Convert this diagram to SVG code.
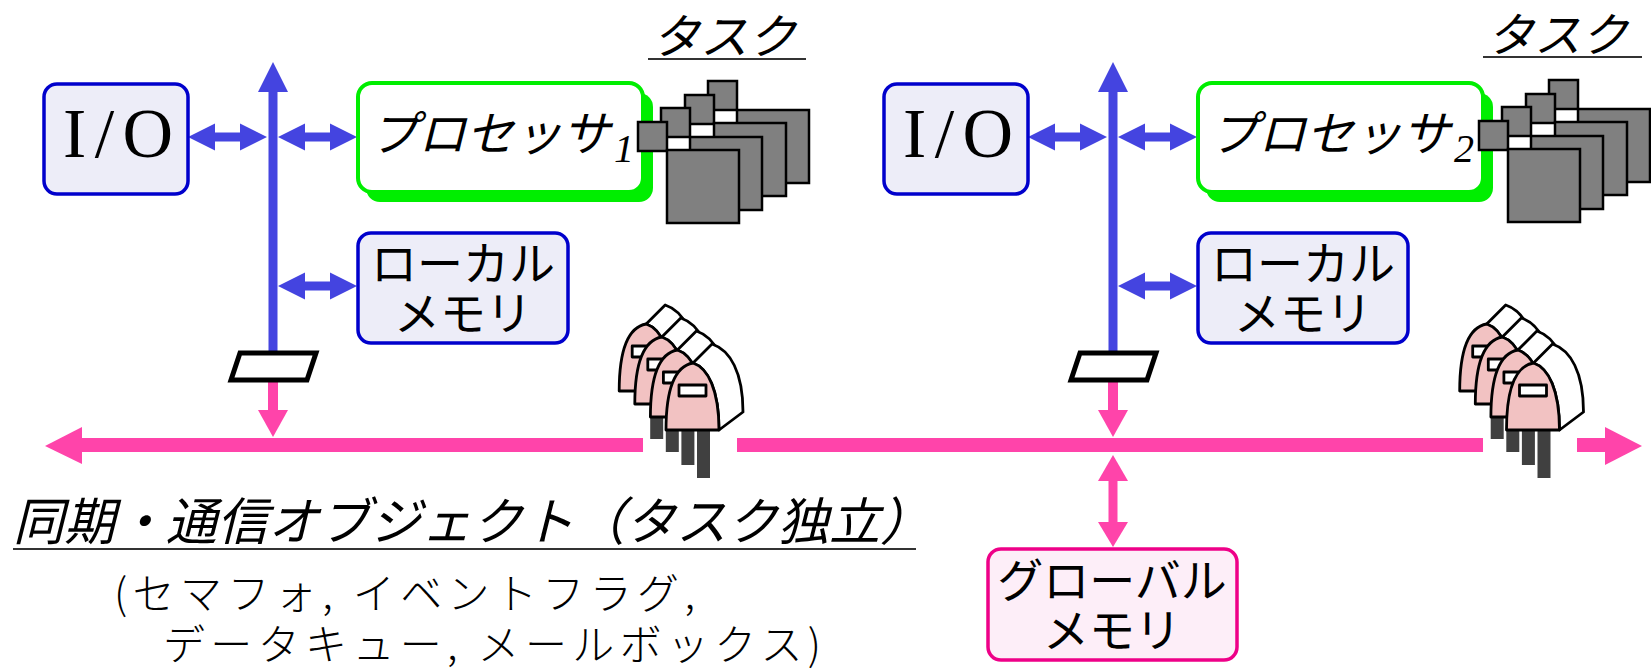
<svg xmlns="http://www.w3.org/2000/svg" width="1651" height="669" viewBox="0 0 1651 669">
<defs>
<style>
.jp { font-family: "Noto Sans CJK JP", "Noto Sans", sans-serif; fill:#000; }
.it { font-style: italic; }
.light { font-weight: 300; }
.serif { font-family: "Liberation Serif", "DejaVu Serif", serif; fill:#000; }
.bbox { fill:#ededf8; stroke:#0000cc; stroke-width:3.5; }
.proc { fill:#fff; stroke:#00ee00; stroke-width:4; }
.procsh { fill:#00ee00; }
.gmem { fill:#fdeef8; stroke:#ee0088; stroke-width:3.5; }
.blue { fill:#4444e0; }
.pink { fill:#ff44aa; }
.task { fill:#808080; stroke:#000; stroke-width:2.5; }
.fig { stroke:#000; stroke-width:2.8; stroke-linejoin:round; }
.ul { stroke:#333; stroke-width:2; }
.para { fill:#fff; stroke:#000; stroke-width:5; stroke-linejoin:miter; }
</style>
<g id="taskstack">
  <rect class="task" x="70" y="-41" width="29" height="29"/>
  <rect class="task" x="99" y="-12" width="72" height="73"/>
  <rect class="task" x="47" y="-27" width="29" height="29"/>
  <rect class="task" x="76" y="1" width="72" height="73"/>
  <rect class="task" x="23" y="-14" width="29" height="29"/>
  <rect class="task" x="52" y="15" width="72" height="73"/>
  <rect class="task" x="0" y="0" width="29" height="29"/>
  <rect class="task" x="29" y="28" width="72" height="73"/>
</g>
<g id="post">
  <rect x="31" y="0" width="13" height="48" fill="#404040"/>
  <path class="fig" fill="#fff" d="M27,-67 L46,-86 C64,-80 77,-58 77,-18 L53,0 C53,-40 42,-62 27,-67 Z"/>
  <path class="fig" fill="#f2c2c2" d="M0,0 C0,-45 10,-64 27,-67 C42,-62 53,-40 53,0 Z"/>
  <rect class="fig" fill="#fff" x="13" y="-45" width="27" height="11"/>
</g>
<g id="posts">
  <use href="#post" transform="translate(-46.8,-39)"/>
  <use href="#post" transform="translate(-31.2,-26)"/>
  <use href="#post" transform="translate(-15.6,-13)"/>
  <use href="#post"/>
</g>
<polygon id="dblh" class="blue" points="0,0 27,-13.5 27,-4.5 52,-4.5 52,-13.5 79,0 52,13.5 52,4.5 27,4.5 27,13.5"/>
</defs>

<g id="connectors">
  <rect class="blue" x="268.5" y="90" width="9" height="262"/>
  <polygon class="blue" points="273,62 258,92 288,92"/>
  <rect class="blue" x="1108.5" y="90" width="9" height="262"/>
  <polygon class="blue" points="1113,62 1098,92 1128,92"/>
  <use href="#dblh" transform="translate(188,137)"/>
  <use href="#dblh" transform="translate(278,137)"/>
  <use href="#dblh" transform="translate(278,286)"/>
  <use href="#dblh" transform="translate(1028,137)"/>
  <use href="#dblh" transform="translate(1118,137)"/>
  <use href="#dblh" transform="translate(1118,286)"/>
  <rect class="pink" x="268" y="380" width="10" height="32"/>
  <polygon class="pink" points="258,410 288,410 273,437"/>
  <rect class="pink" x="1108" y="380" width="10" height="32"/>
  <polygon class="pink" points="1098,410 1128,410 1113,437"/>
  <polygon class="pink" points="45,446 82,427 82,464"/>
  <rect class="pink" x="81" y="438" width="562" height="14"/>
  <rect class="pink" x="737" y="438" width="746" height="14"/>
  <rect class="pink" x="1577" y="438" width="29" height="14"/>
  <polygon class="pink" points="1605,427 1642,446 1605,465"/>
  <polygon class="pink" points="1113,455 1098,481 1128,481"/>
  <rect class="pink" x="1108.5" y="480" width="9" height="43"/>
  <polygon class="pink" points="1098,522 1128,522 1113,547"/>
</g>

<g id="io1">
  <rect class="bbox" x="44" y="84" width="144" height="110" rx="13"/>
  <text class="serif" x="63" y="157" font-size="70" textLength="110" lengthAdjust="spacing">I/O</text>
</g>
<g id="proc1">
  <rect class="procsh" x="366" y="93" width="287" height="109" rx="14"/>
  <rect class="proc" x="358" y="83" width="285" height="109" rx="14"/>
  <text class="jp it" x="370" y="151" font-size="48">プロセッサ</text>
  <text class="serif it" x="614" y="162" font-size="40">1</text>
</g>
<g id="lmem1">
  <rect class="bbox" x="358" y="233" width="210" height="110" rx="13"/>
  <text class="jp" x="463" y="280" font-size="46" text-anchor="middle">ローカル</text>
  <text class="jp" x="463" y="330" font-size="46" text-anchor="middle">メモリ</text>
</g>
<g id="task1">
  <text class="jp it" x="652" y="54" font-size="48">タスク</text>
  <line class="ul" x1="648" y1="59" x2="806" y2="59"/>
  <use href="#taskstack" transform="translate(638,122)"/>
</g>
<g id="bif1">
  <polygon class="para" points="240,353 316,353 307,380 231,380"/>
</g>
<g id="sync1">
  <use href="#posts" transform="translate(666,430)"/>
</g>

<g id="io2">
  <rect class="bbox" x="884" y="84" width="144" height="110" rx="13"/>
  <text class="serif" x="903" y="157" font-size="70" textLength="110" lengthAdjust="spacing">I/O</text>
</g>
<g id="proc2">
  <rect class="procsh" x="1206" y="93" width="287" height="109" rx="14"/>
  <rect class="proc" x="1198" y="83" width="285" height="109" rx="14"/>
  <text class="jp it" x="1210" y="151" font-size="48">プロセッサ</text>
  <text class="serif it" x="1454" y="162" font-size="40">2</text>
</g>
<g id="lmem2">
  <rect class="bbox" x="1198" y="233" width="210" height="110" rx="13"/>
  <text class="jp" x="1303" y="280" font-size="46" text-anchor="middle">ローカル</text>
  <text class="jp" x="1303" y="330" font-size="46" text-anchor="middle">メモリ</text>
</g>
<g id="task2">
  <text class="jp it" x="1487" y="52" font-size="47">タスク</text>
  <line class="ul" x1="1483" y1="57" x2="1642" y2="57"/>
  <use href="#taskstack" transform="translate(1479,121)"/>
</g>
<g id="bif2">
  <polygon class="para" points="1080,353 1156,353 1147,380 1071,380"/>
</g>
<g id="sync2">
  <use href="#posts" transform="translate(1506.5,430)"/>
</g>

<g id="gmem">
  <rect class="gmem" x="988" y="549" width="249" height="111" rx="13"/>
  <text class="jp" x="1112" y="597" font-size="46" text-anchor="middle">グローバル</text>
  <text class="jp" x="1112" y="647" font-size="46" text-anchor="middle">メモリ</text>
</g>

<g id="caption">
  <text class="jp it" x="13" y="540" font-size="51" textLength="918" lengthAdjust="spacing">同期・通信オブジェクト（タスク独立）</text>
  <line class="ul" x1="13" y1="549" x2="916" y2="549"/>
  <text class="jp light" x="114" y="609" font-size="42" textLength="581" lengthAdjust="spacing">(セマフォ, イベントフラグ,</text>
  <text class="jp light" x="163" y="660" font-size="42" textLength="658" lengthAdjust="spacing">データキュー, メールボックス)</text>
</g>
</svg>
